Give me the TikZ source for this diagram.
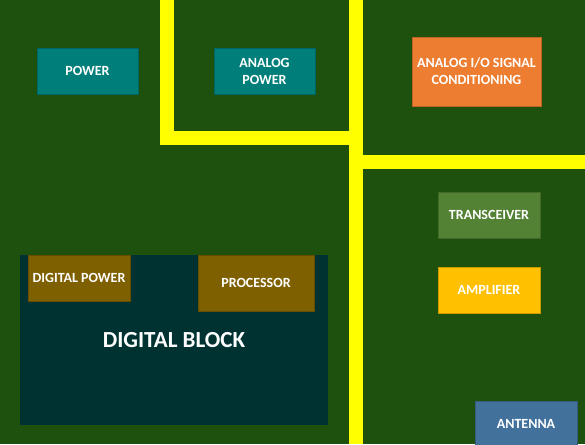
\documentclass[tikz,border=0pt]{standalone}
\usepackage{fontspec}
\setmainfont{Carlito}
\definecolor{bg}{RGB}{30,80,14}
\definecolor{trace}{RGB}{255,255,0}
\definecolor{tealbox}{RGB}{0,126,122}
\definecolor{orangebox}{RGB}{237,125,49}
\definecolor{greenbox}{RGB}{84,130,53}
\definecolor{goldbox}{RGB}{255,192,0}
\definecolor{bluebox}{RGB}{66,113,156}
\definecolor{darkblock}{RGB}{0,50,50}
\definecolor{brownbox}{RGB}{127,96,0}
\tikzset{
  block/.style={rectangle, inner sep=0pt, text=white, align=center,
    font=\fontsize{14}{17}\selectfont\bfseries, draw=#1!80!black, line width=0.5pt, fill=#1},
}
\begin{document}
\begin{tikzpicture}[x=1pt,y=-1pt]
\useasboundingbox (0,0) rectangle (585,444);
\clip (0,0) rectangle (585,444);
\fill[bg] (0,0) rectangle (585,444);
% yellow traces
\fill[trace] (160,0) rectangle (174,145);
\fill[trace] (160,131) rectangle (363,145);
\fill[trace] (349,0) rectangle (363,444);
\fill[trace] (349,155) rectangle (585,169);
% blocks
\node[block=tealbox, minimum width=101pt, minimum height=46pt] (power) at (87.5,71) {POWER};
\node[block=tealbox, minimum width=101pt, minimum height=46pt] (apower) at (264.5,71) {ANALOG\\POWER};
\node[block=orangebox, minimum width=129pt, minimum height=69pt] (aio) at (476.5,71.5) {ANALOG I/O SIGNAL\\CONDITIONING};
\node[block=greenbox, minimum width=102pt, minimum height=46pt] (trx) at (489,215) {TRANSCEIVER};
\node[block=goldbox, minimum width=102pt, minimum height=46pt] (amp) at (489,290) {AMPLIFIER};
\node[block=bluebox, minimum width=102pt, minimum height=46pt] (ant) at (526,424) {ANTENNA};
\node[rectangle, inner sep=0pt, fill=darkblock, text=white, minimum width=308pt, minimum height=170pt,
  font=\fontsize{23}{27}\selectfont\bfseries] (dblock) at (174,340) {DIGITAL BLOCK};
\node[block=brownbox, minimum width=102pt, minimum height=46pt] (dpower) at (79,278) {DIGITAL POWER};
\node[block=brownbox, minimum width=116pt, minimum height=56pt] (proc) at (256,283) {PROCESSOR};
\end{tikzpicture}
\end{document}
